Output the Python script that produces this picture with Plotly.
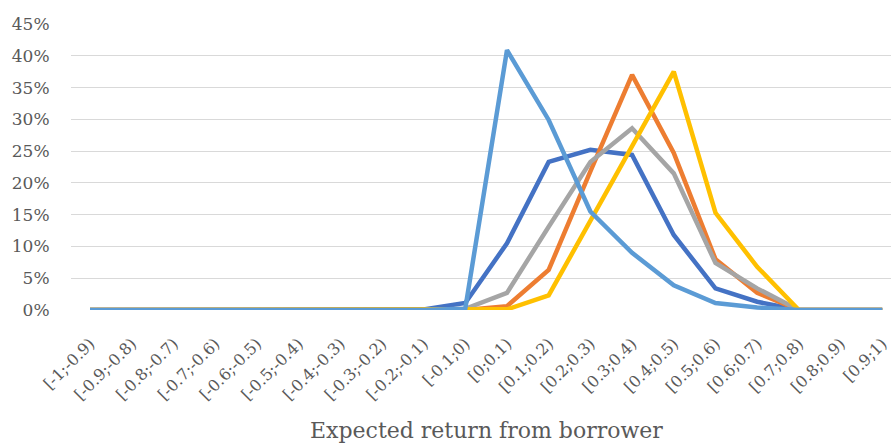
import plotly.graph_objects as go

categories = ["[-1;-0.9)", "[-0.9;-0.8)", "[-0.8;-0.7)", "[-0.7;-0.6)", "[-0.6;-0.5)",
              "[-0.5;-0.4)", "[-0.4;-0.3)", "[-0.3;-0.2)", "[-0.2;-0.1)", "[-0.1;0)",
              "[0;0.1)", "[0.1;0.2)", "[0.2;0.3)", "[0.3;0.4)", "[0.4;0.5)",
              "[0.5;0.6)", "[0.6;0.7)", "[0.7;0.8)", "[0.8;0.9)", "[0.9;1)"]

series_dark_blue = [0, 0, 0, 0, 0, 0, 0, 0, 0.1, 1.1, 10.5, 23.3, 25.2, 24.4, 11.8, 3.4, 1.3, 0, 0, 0]
series_orange = [0, 0, 0, 0, 0, 0, 0, 0, 0, 0, 0.6, 6.3, 21.8, 37.0, 24.7, 8.0, 2.7, 0, 0, 0]
series_gray = [0, 0, 0, 0, 0, 0, 0, 0, 0, 0.2, 2.7, 13.1, 23.3, 28.6, 21.5, 7.4, 3.4, 0, 0, 0]
series_yellow = [0, 0, 0, 0, 0, 0, 0, 0, 0, 0, 0.1, 2.3, 14.0, 25.5, 37.5, 15.3, 6.8, 0, 0, 0]
series_light_blue = [0, 0, 0, 0, 0, 0, 0, 0, 0, 0.2, 40.9, 29.9, 15.5, 9.0, 3.9, 1.1, 0.4, 0, 0, 0]

y_ticks = [0, 5, 10, 15, 20, 25, 30, 35, 40, 45]
y_tick_labels = ["0%", "5%", "10%", "15%", "20%", "25%", "30%", "35%", "40%", "45%"]

x_title = "Expected return from borrower"

series = [
    ("Series 1", series_dark_blue, "#4472C4"),
    ("Series 2", series_orange, "#ED7D31"),
    ("Series 3", series_gray, "#A5A5A5"),
    ("Series 4", series_yellow, "#FFC000"),
    ("Series 5", series_light_blue, "#5B9BD5"),
]

fig = go.Figure()
for name, vals, color in series:
    fig.add_trace(go.Scatter(x=categories, y=vals, mode="lines", name=name,
                             line=dict(color=color, width=4.5, shape="linear"),
                             showlegend=False))

font_family = "DejaVu Serif, Liberation Serif, serif"
text_color = "#595959"
fig.update_layout(
    width=891, height=444,
    margin=dict(l=71, r=0, t=24, b=134, autoexpand=False),
    paper_bgcolor="white", plot_bgcolor="white",
    font=dict(family=font_family, color=text_color),
    xaxis=dict(
        type="category",
        range=[-0.456, 19.21],
        tickangle=-45,
        tickfont=dict(size=16, color=text_color),
        showgrid=False, zeroline=False, showline=False,
        ticks="outside", ticklen=17, tickcolor="rgba(0,0,0,0)",
        automargin=False,
    ),
    yaxis=dict(
        range=[0, 45],
        tickvals=y_ticks, ticktext=y_tick_labels,
        tickfont=dict(size=17, color=text_color),
        showgrid=True, gridcolor="#D9D9D9", gridwidth=1,
        zeroline=False, showline=False,
        ticks="outside", ticklen=17, tickcolor="rgba(0,0,0,0)",
        automargin=False,
    ),
    annotations=[dict(
        text=x_title, xref="paper", yref="paper",
        x=(486 - 71) / 820, y=-(430 - 310) / 286,
        xanchor="center", yanchor="middle", showarrow=False,
        font=dict(size=22, color=text_color, family=font_family),
    )],
)

fig.write_html("out.html",
               config={"displayModeBar": False},
               post_script="document.body.style.margin='0';document.body.style.padding='0';document.body.style.overflow='hidden';")
